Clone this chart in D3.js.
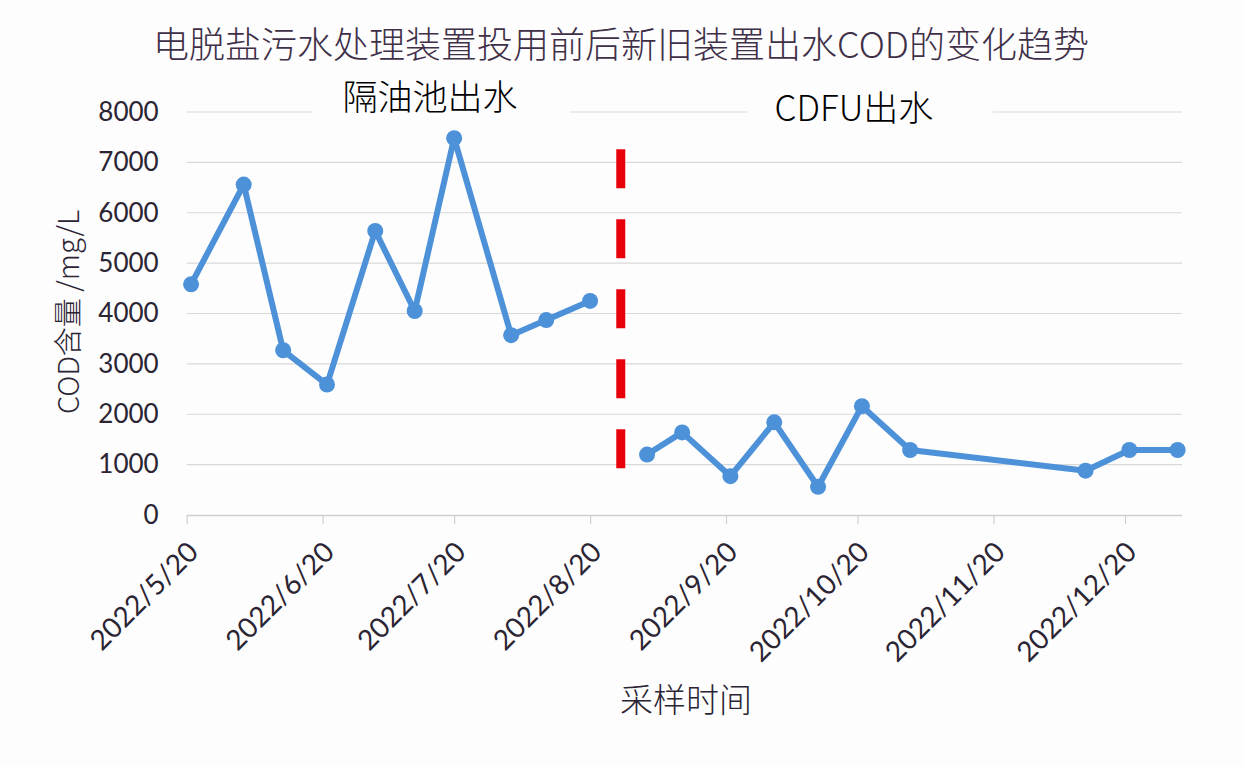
<!DOCTYPE html>
<html>
<head>
<meta charset="utf-8">
<script src="https://cdn.jsdelivr.net/npm/d3@7/dist/d3.min.js"></script>
<style>
  html, body { margin: 0; padding: 0; background: #fdfdfe; }
  svg { display: block; }
</style>
</head>
<body>
<svg id="chart" width="1244" height="766"></svg>
<script>
// ---------- data ----------
const titleText = "电脱盐污水处理装置投用前后新旧装置出水COD的变化趋势";
const yAxisTitle = "COD含量 /mg/L";
const xAxisTitle = "采样时间";
const leftLabel = "隔油池出水";
const rightLabel = "CDFU出水";

const oldDates  = ["2022-05-21","2022-06-02","2022-06-11","2022-06-21","2022-07-02","2022-07-11","2022-07-20","2022-08-02","2022-08-10","2022-08-20"];
const oldValues = [4580, 6560, 3270, 2590, 5640, 4050, 7480, 3570, 3870, 4250];

const newDates  = ["2022-09-02","2022-09-10","2022-09-21","2022-10-01","2022-10-11","2022-10-21","2022-11-01","2022-12-11","2022-12-21","2023-01-01"];
const newValues = [1200, 1640, 770, 1840, 560, 2160, 1290, 880, 1290, 1290];

const xTickDates  = ["2022-05-20","2022-06-20","2022-07-20","2022-08-20","2022-09-20","2022-10-20","2022-11-20","2022-12-20"];
const xTickLabels = ["2022/5/20","2022/6/20","2022/7/20","2022/8/20","2022/9/20","2022/10/20","2022/11/20","2022/12/20"];
const yTicks = [0, 1000, 2000, 3000, 4000, 5000, 6000, 7000, 8000];

const xDomain = ["2022-05-20", "2023-01-02"];
const yDomain = [0, 8000];
const dividerDate = "2022-08-27";
const dividerRange = [930, 7260];

// ---------- setup ----------
const parse = d3.utcParse("%Y-%m-%d");
const svg = d3.select("#chart");
const W = 1244, H = 766;
const plot = { left: 186.7, right: 1182, top: 112, bottom: 515 };

const x = d3.scaleUtc().domain(xDomain.map(parse)).range([plot.left, plot.right]);
const y = d3.scaleLinear().domain(yDomain).range([plot.bottom, plot.top]);

const textColor = "#2b2433";
const cjk = "'Noto Sans CJK SC', 'Noto Sans', sans-serif";
const num = "Lato, 'Noto Sans', sans-serif";
const bg = "#fdfdfe";

svg.append("rect").attr("width", W).attr("height", H).attr("fill", bg);

// gridlines
svg.append("g")
  .selectAll("line")
  .data(yTicks.filter(d => d !== 0))
  .join("line")
  .attr("x1", plot.left).attr("x2", plot.right)
  .attr("y1", d => y(d)).attr("y2", d => y(d))
  .attr("stroke", "#d9d9d9").attr("stroke-width", 1.2);

// y axis labels
const yAxis = d3.axisLeft(y).tickValues(yTicks).tickSize(0).tickPadding(28).tickFormat(d3.format("d"));
const gy = svg.append("g").attr("transform", `translate(${plot.left},0)`).call(yAxis);
gy.select(".domain").remove();
gy.selectAll("text")
  .attr("font-family", num).attr("font-size", 26).attr("fill", textColor);

// x axis
const xAxis = d3.axisBottom(x)
  .tickValues(xTickDates.map(parse))
  .tickSize(9)
  .tickFormat((d, i) => xTickLabels[i]);
const gx = svg.append("g").attr("transform", `translate(0,${plot.bottom})`).call(xAxis);
gx.select(".domain").attr("stroke", "#d0d0d0").attr("stroke-width", 1.5)
  .attr("d", `M${plot.left},0.5H${plot.right}`);
gx.selectAll(".tick line").attr("stroke", "#d0d0d0").attr("stroke-width", 1.2);
gx.selectAll("text")
  .attr("font-family", num).attr("font-size", 28).attr("fill", textColor)
  .attr("text-anchor", "end")
  .attr("dominant-baseline", "central")
  .attr("dy", null)
  .attr("y", 0)
  .attr("transform", "translate(5,31) rotate(-45)");

// divider
const dX = x(parse(dividerDate));
svg.append("line")
  .attr("x1", dX).attr("x2", dX)
  .attr("y1", y(dividerRange[1])).attr("y2", y(dividerRange[0]))
  .attr("stroke", "#e8000b").attr("stroke-width", 9)
  .attr("stroke-dasharray", "39 31");

// lines
const lineGen = d3.line().x(d => x(d.date)).y(d => y(d.value));
const blue = "#4d91d9";
function drawSeries(dates, values) {
  const data = dates.map((d, i) => ({ date: parse(d), value: values[i] }));
  svg.append("path").datum(data)
    .attr("d", lineGen)
    .attr("fill", "none").attr("stroke", blue)
    .attr("stroke-width", 6).attr("stroke-linejoin", "round").attr("stroke-linecap", "round");
  svg.append("g").selectAll("circle").data(data).join("circle")
    .attr("cx", d => x(d.date)).attr("cy", d => y(d.value))
    .attr("r", 8).attr("fill", blue);
}
drawSeries(oldDates, oldValues);
drawSeries(newDates, newValues);

// labels with background box that hides the gridline
function boxedLabel(txt, cx, baseline, padL, padR) {
  const g = svg.append("g");
  const rect = g.append("rect").attr("fill", bg);
  const t = g.append("text").text(txt)
    .attr("x", cx).attr("y", baseline)
    .attr("text-anchor", "middle")
    .attr("font-family", cjk).attr("font-size", 35).attr("font-weight", 300).attr("fill", "#000");
  const b = t.node().getBBox();
  rect.attr("x", b.x - padL).attr("y", b.y).attr("width", b.width + padL + padR).attr("height", b.height);
}
boxedLabel(leftLabel, 430, 110, 30, 53);
boxedLabel(rightLabel, 854, 121, 27, 59);

// title
svg.append("text").text(titleText)
  .attr("x", 621).attr("y", 58)
  .attr("text-anchor", "middle")
  .attr("font-family", cjk).attr("font-size", 36).attr("font-weight", 300).attr("fill", "#3f3048");

// y axis title
svg.append("text").text(yAxisTitle)
  .attr("transform", `translate(66,312) rotate(-90)`)
  .attr("text-anchor", "middle")
  .attr("dominant-baseline", "central")
  .attr("font-family", cjk).attr("font-size", 29).attr("font-weight", 300).attr("fill", textColor);

// x axis title
svg.append("text").text(xAxisTitle)
  .attr("x", 686).attr("y", 712)
  .attr("text-anchor", "middle")
  .attr("font-family", cjk).attr("font-size", 33).attr("font-weight", 300).attr("fill", textColor);
</script>
</body>
</html>
